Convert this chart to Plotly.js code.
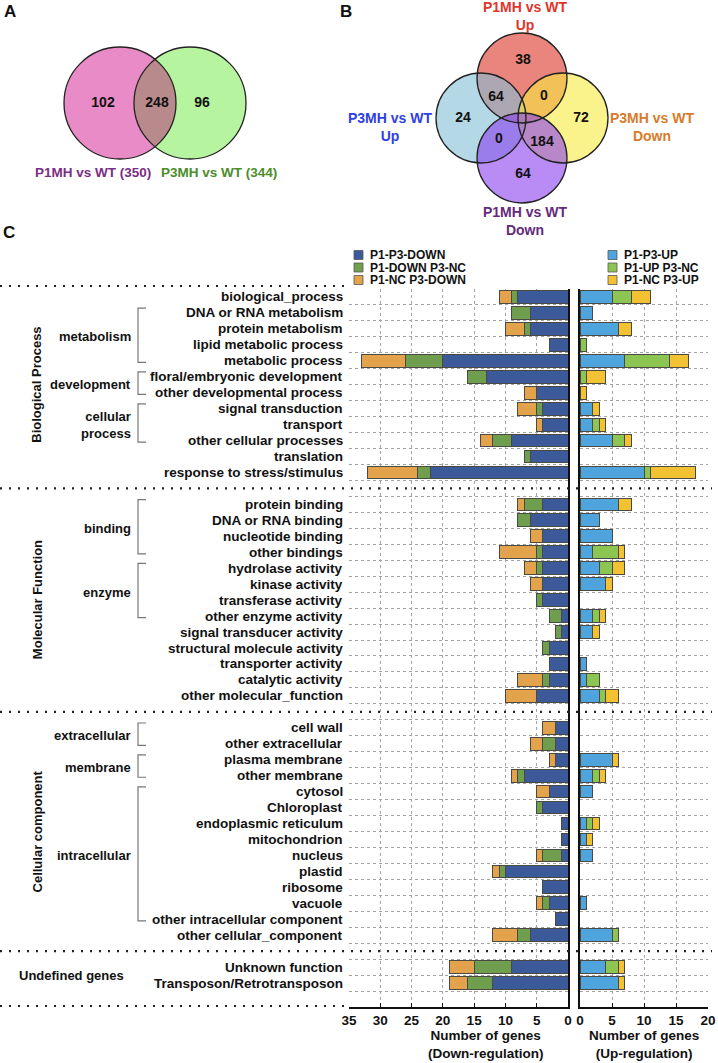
<!DOCTYPE html>
<html>
<head>
<meta charset="utf-8">
<script src="https://cdn.plot.ly/plotly-3.0.1.min.js"></script>
<style>
  html, body { margin: 0; padding: 0; background: #fff; }
  #chart { width: 718px; height: 1063px; }
</style>
</head>
<body>
<div id="chart"></div>
<script>
// GO category figure: two Venn diagrams (A, B) and a diverging stacked bar chart (C)

const W = 718, H = 1063;
const FONT = 'Liberation Sans, Arial, sans-serif';

// ---- Panel A: Venn counts ----
const vennALabels = ['P1MH vs WT (350)', 'P3MH vs WT (344)'];
const vennACounts = [102, 248, 96];

// ---- Panel B: Venn counts (38 top, 64, 0, 24, 72, 0, 184, 64 bottom) ----
const vennBLabels = ['P1MH vs WT<br>Up', 'P3MH vs WT<br>Up', 'P3MH vs WT<br>Down', 'P1MH vs WT<br>Down'];
const vennBCounts = [38, 64, 0, 24, 72, 0, 184, 64];

// ---- Panel C: GO terms ----
const sectionNames = ['Biological Process', 'Molecular Function', 'Cellular component', 'Undefined genes'];
const bpTerms = ['biological_process', 'DNA or RNA metabolism', 'protein metabolism', 'lipid metabolic process',
  'metabolic process', 'floral/embryonic development', 'other developmental process', 'signal transduction',
  'transport', 'other cellular processes', 'translation', 'response to stress/stimulus'];
const mfTerms = ['protein binding', 'DNA or RNA binding', 'nucleotide binding', 'other bindings',
  'hydrolase activity', 'kinase activity', 'transferase activity', 'other enzyme activity',
  'signal transducer activity', 'structural molecule activity', 'transporter activity',
  'catalytic activity', 'other molecular_function'];
const ccTerms = ['cell wall', 'other extracellular', 'plasma membrane', 'other membrane', 'cytosol',
  'Chloroplast', 'endoplasmic reticulum', 'mitochondrion', 'nucleus', 'plastid', 'ribosome', 'vacuole',
  'other intracellular component', 'other cellular_component'];
const ugTerms = ['Unknown function', 'Transposon/Retrotransposon'];

const subGroups = [
  ['metabolism', 'DNA or RNA metabolism', 'metabolic process'],
  ['development', 'floral/embryonic development', 'other developmental process'],
  ['cellular<br>process', 'signal transduction', 'other cellular processes'],
  ['binding', 'protein binding', 'other bindings'],
  ['enzyme', 'hydrolase activity', 'other enzyme activity'],
  ['extracellular', 'cell wall', 'other extracellular'],
  ['membrane', 'plasma membrane', 'other membrane'],
  ['intracellular', 'cytosol', 'other intracellular component'],
];

const downNames = ['P1-P3-DOWN', 'P1-DOWN P3-NC', 'P1-NC P3-DOWN'];
const upNames = ['P1-P3-UP', 'P1-UP P3-NC', 'P1-NC P3-UP'];

// number of genes, order = bp, mf, cc, ug
const downBoth = [8, 6, 6, 3, 20, 13, 5, 4, 4, 9, 6, 22,
  4, 6, 4, 4, 4, 4, 4, 1, 1, 3, 3, 3, 5,
  2, 2, 2, 7, 3, 4, 1, 1, 1, 10, 4, 3, 2, 6,
  9, 12];
const downP1 = [1, 3, 1, 0, 6, 3, 0, 1, 0, 3, 1, 2,
  3, 2, 0, 1, 1, 0, 1, 2, 1, 1, 0, 1, 0,
  0, 2, 0, 1, 0, 1, 0, 0, 3, 1, 0, 1, 0, 2,
  6, 4];
const downP3 = [2, 0, 3, 0, 7, 0, 2, 3, 1, 2, 0, 8,
  1, 0, 2, 6, 2, 2, 0, 0, 0, 0, 0, 4, 5,
  2, 2, 1, 1, 2, 0, 0, 0, 1, 1, 0, 1, 0, 4,
  4, 3];
const upBoth = [5, 2, 6, 0, 7, 0, 0, 2, 2, 5, 0, 10,
  6, 3, 5, 2, 3, 4, 0, 2, 2, 0, 1, 1, 3,
  0, 0, 5, 2, 2, 0, 1, 1, 2, 0, 0, 1, 0, 5,
  4, 6];
const upP1 = [3, 0, 0, 1, 7, 1, 0, 0, 1, 2, 0, 1,
  0, 0, 0, 4, 2, 0, 0, 1, 0, 0, 0, 2, 1,
  0, 0, 0, 1, 0, 0, 1, 0, 0, 0, 0, 0, 0, 1,
  2, 0];
const upP3 = [3, 0, 2, 0, 3, 3, 1, 1, 1, 1, 0, 7,
  2, 0, 0, 1, 2, 1, 0, 1, 1, 0, 0, 0, 2,
  0, 0, 1, 1, 0, 0, 1, 1, 0, 0, 0, 0, 0, 0,
  1, 1];

const downColors = ['#3C5A99', '#6E9E4E', '#E2A34C'];
const upColors = ['#4FA4DD', '#8CC552', '#F2C232'];

// ---- slot layout: one row per term, one empty row between sections ----
const allTerms = [];
const slotOf = [];
const sectionSpans = [];
let slot = 0;
[bpTerms, mfTerms, ccTerms, ugTerms].forEach(g => {
  sectionSpans.push([slot, slot + g.length - 1]);
  g.forEach(t => { allTerms.push(t); slotOf.push(slot++); });
  slot++;
});
const NSLOT = slot; // 45
const PLOT_TOP = 289, PLOT_BOT = 1007;
const SLOT = (PLOT_BOT - PLOT_TOP) / NSLOT;
const slotY = s => PLOT_TOP + (s + 0.5) * SLOT;
const termY = t => slotY(slotOf[allTerms.indexOf(t)]);

const X_DOWN = [349, 568], X_UP = [580, 708];

const nz = v => v.map(d => (d === 0 ? null : d));
const boldFont = (size, color) => ({ family: FONT, size, color: color || '#111', weight: 'bold' });

function barTrace(name, vals, color, xa, ya) {
  return {
    type: 'bar', orientation: 'h', name,
    x: nz(vals), y: slotOf, xaxis: xa, yaxis: ya,
    width: 0.8,
    marker: { color, line: { color: '#4b4a42', width: 1 } },
    showlegend: false, hoverinfo: 'x+name',
  };
}

const traces = [
  barTrace(downNames[0], downBoth, downColors[0], 'x', 'y'),
  barTrace(downNames[1], downP1, downColors[1], 'x', 'y'),
  barTrace(downNames[2], downP3, downColors[2], 'x', 'y'),
  barTrace(upNames[0], upBoth, upColors[0], 'x2', 'y2'),
  barTrace(upNames[1], upP1, upColors[1], 'x2', 'y2'),
  barTrace(upNames[2], upP3, upColors[2], 'x2', 'y2'),
];

// Venn numbers as a text trace on the pixel overlay axes
const vennTextX = [103, 157, 202, 523, 496, 544, 463, 581, 499, 542, 523];
const vennTextY = [103, 103, 103, 60, 97, 96, 118, 118, 139, 142, 174];
traces.push({
  type: 'scatter', mode: 'text', xaxis: 'x3', yaxis: 'y3',
  x: vennTextX, y: vennTextY,
  text: vennACounts.concat(vennBCounts).map(String),
  textfont: boldFont(14, '#111'),
  hoverinfo: 'skip', showlegend: false,
});

// ---- shapes ----
const shapes = [];
const annotations = [];
const txt = (x, y, text, font, extra) => annotations.push(Object.assign({
  xref: 'x3', yref: 'y3', x, y, text, showarrow: false, font,
}, extra || {}));

// Venn A
const cA1 = [120, 103], cA2 = [190, 103], rA = 56;
const circ = (c, r, style) => Object.assign({
  type: 'circle', xref: 'x3', yref: 'y3', layer: 'below',
  x0: c[0] - r, x1: c[0] + r, y0: c[1] - r, y1: c[1] + r,
}, style);
function lensPath(c1, c2, r, n) {
  const th = Math.acos((c2[0] - c1[0]) / 2 / r);
  const pts = [];
  for (let i = 0; i <= n; i++) { const a = -th + 2 * th * i / n; pts.push([c1[0] + r * Math.cos(a), c1[1] + r * Math.sin(a)]); }
  for (let i = 0; i <= n; i++) { const a = Math.PI - th + 2 * th * i / n; pts.push([c2[0] + r * Math.cos(a), c2[1] + r * Math.sin(a)]); }
  return 'M' + pts.map(p => p[0].toFixed(1) + ',' + p[1].toFixed(1)).join('L') + 'Z';
}
shapes.push(circ(cA1, rA, { fillcolor: '#E98BC6', line: { width: 0 } }));
shapes.push(circ(cA2, rA, { fillcolor: '#B6F4A0', line: { width: 0 } }));
shapes.push({ type: 'path', xref: 'x3', yref: 'y3', layer: 'below', path: lensPath(cA1, cA2, rA, 40),
  fillcolor: '#B88A8C', line: { width: 0 } });
shapes.push(circ(cA1, rA, { line: { color: '#222', width: 1.3 } }));
shapes.push(circ(cA2, rA, { line: { color: '#222', width: 1.3 } }));

// Venn B: red (top), blue (left), yellow (right), purple (bottom)
const rB = 45;
const vennB = [
  { c: [522, 78], fill: '#DC3426' },
  { c: [481, 118], fill: '#84BED5' },
  { c: [563, 118], fill: '#F7EB3F' },
  { c: [522, 158], fill: '#8A3FEE' },
];
vennB.forEach(v => shapes.push(circ(v.c, rB, { fillcolor: v.fill, opacity: 0.6, line: { width: 0 } })));
vennB.forEach(v => shapes.push(circ(v.c, rB, { line: { color: '#222', width: 1.3 } })));

// panel letters
txt(10, 11, 'A', boldFont(17));
txt(346, 11, 'B', boldFont(17));
txt(9, 232, 'C', boldFont(17));

// Venn labels
txt(93, 172, vennALabels[0], boldFont(13.5, '#7A2E83'));
txt(219, 172, vennALabels[1], boldFont(13.5, '#4C8C2B'));
txt(525, 16, vennBLabels[0], boldFont(14, '#E0352B'));
txt(390, 127, vennBLabels[1], boldFont(14, '#2F3FE3'));
txt(652, 127, vennBLabels[2], boldFont(14, '#D97A2B'));
txt(525, 221, vennBLabels[3], boldFont(14, '#652B7A'));

// custom legend (two columns of three)
[[downNames, downColors, 354], [upNames, upColors, 608]].forEach(([names, cols, x0]) => {
  names.forEach((n, i) => {
    const cy = 255 + i * 12.5;
    shapes.push({ type: 'rect', xref: 'x3', yref: 'y3', x0, x1: x0 + 9, y0: cy - 4.5, y1: cy + 4.5,
      fillcolor: cols[i], line: { color: '#555', width: 0.8 } });
    txt(x0 + 14, cy, n, boldFont(12), { xanchor: 'left' });
  });
});

// row labels
allTerms.forEach(t => txt(345, termY(t), t, boldFont(13.5), { xanchor: 'right' }));

// sub-group labels with brackets
subGroups.forEach(([label, from, to]) => {
  const yTop = termY(from) - 0.3 * SLOT, yBot = termY(to) + 0.1 * SLOT;
  txt(133, (termY(from) + termY(to)) / 2, label, boldFont(13), { xanchor: 'right', align: 'right' });
  shapes.push({ type: 'path', xref: 'x3', yref: 'y3',
    path: `M146,${yTop} L138,${yTop} L138,${yBot} L146,${yBot}`,
    line: { color: '#777', width: 1.2 } });
});

// section labels
sectionSpans.forEach(([a, b], i) => {
  const yc = (slotY(a) + slotY(b)) / 2;
  if (i < 3) txt(37, yc, sectionNames[i], boldFont(13), { textangle: -90 });
  else txt(71, yc, sectionNames[i], boldFont(13));
});

// dotted separators between sections
const sepDash = '2px,7px';
const sepLine = (y, x1) => shapes.push({ type: 'line', xref: 'x3', yref: 'y3', x0: 0, x1, y0: y, y1: y,
  line: { color: '#222', width: 2.2, dash: sepDash } });
sepLine(PLOT_TOP - 3, 346);
sectionSpans.slice(0, 3).forEach(([a, b]) => sepLine(slotY(b + 1), 712));
sepLine(PLOT_BOT - 1, 346);

// axis titles
txt((X_DOWN[0] + X_DOWN[1]) / 2 + 27, 1044.5, 'Number of genes<br>(Down-regulation)', boldFont(13.5));
txt((X_UP[0] + X_UP[1]) / 2, 1044.5, 'Number of genes<br>(Up-regulation)', boldFont(13.5));

// ---- axes ----
const slotEdges = [];
for (let i = 0; i <= NSLOT; i++) slotEdges.push(i - 0.5);
const yDomain = [1 - PLOT_BOT / H, 1 - PLOT_TOP / H];
const gridStyle = { showgrid: true, gridcolor: '#a3a3a3', griddash: 'dot', gridwidth: 1, zeroline: false };
const yBase = Object.assign({
  domain: yDomain, range: [NSLOT - 0.5, -0.5], tickmode: 'array', tickvals: slotEdges,
  showticklabels: false, ticks: '', showline: true, linecolor: '#111', linewidth: 2,
}, gridStyle);
const xBase = Object.assign({
  showline: true, linecolor: '#111', linewidth: 2, ticks: 'inside', ticklen: 4, tickcolor: '#111',
  tickfont: boldFont(13.5), fixedrange: true,
}, gridStyle);

const layout = {
  width: W, height: H,
  margin: { l: 0, r: 0, t: 0, b: 0 },
  paper_bgcolor: '#FFFFFF',
  plot_bgcolor: 'rgba(0,0,0,0)',
  font: { family: FONT, color: '#111' },
  barmode: 'stack',
  bargap: 0,
  showlegend: false,
  xaxis: Object.assign({}, xBase, { domain: [X_DOWN[0] / W, X_DOWN[1] / W], range: [35, 0], anchor: 'y',
    tickvals: [0, 5, 10, 15, 20, 25, 30, 35] }),
  yaxis: Object.assign({}, yBase, { anchor: 'x', side: 'right' }),
  xaxis2: Object.assign({}, xBase, { domain: [X_UP[0] / W, X_UP[1] / W], range: [0, 20], anchor: 'y2',
    tickvals: [0, 5, 10, 15, 20] }),
  yaxis2: Object.assign({}, yBase, { anchor: 'x2', side: 'left' }),
  xaxis3: { domain: [0, 1], range: [0, W], anchor: 'y3', visible: false, fixedrange: true },
  yaxis3: { domain: [0, 1], range: [H, 0], anchor: 'x3', visible: false, fixedrange: true },
  shapes,
  annotations,
};

Plotly.newPlot('chart', traces, layout, { displayModeBar: false, staticPlot: true });
</script>
</body>
</html>
